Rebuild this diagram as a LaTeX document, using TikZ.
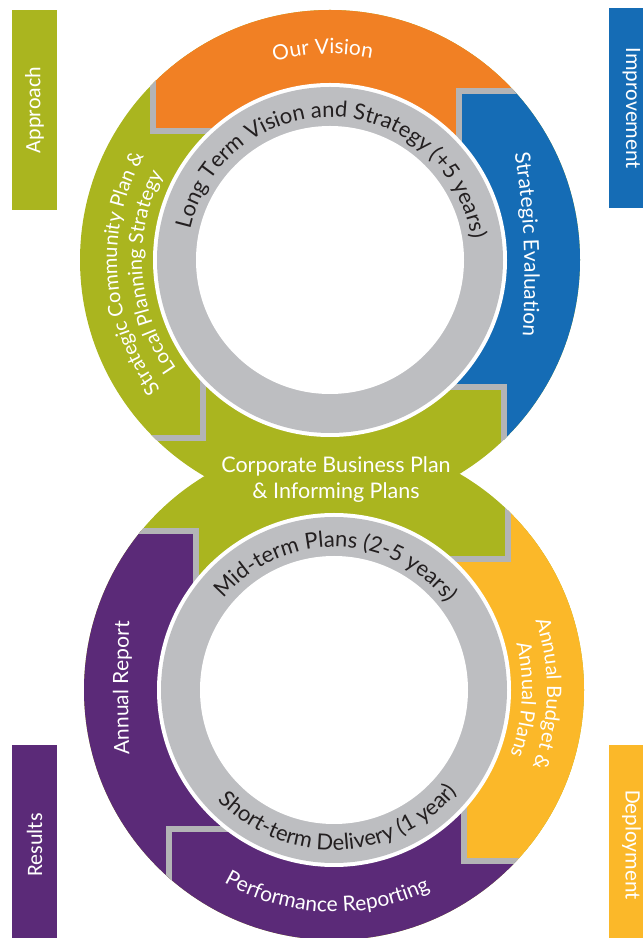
\documentclass[tikz,border=0pt]{standalone}
\usepackage{fontspec}
\setmainfont{Lato}
\newfontfamily\barfont{Carlito}
\usetikzlibrary{decorations.text}
\definecolor{cgreen}{HTML}{AAB51F}
\definecolor{corange}{HTML}{F18024}
\definecolor{cblue}{HTML}{156CB5}
\definecolor{cpurple}{HTML}{5B2A78}
\definecolor{cyellow}{HTML}{FBB829}
\definecolor{cring}{HTML}{BDBEC1}
\definecolor{csep}{HTML}{B3B4B6}
\definecolor{ctext}{HTML}{231F20}
\newcommand\ringfont{\fontsize{22}{22}\selectfont}
\newcommand\segfont{\fontsize{21}{21}\selectfont}
\newcommand\pairfont{\fontsize{20}{20}\selectfont}
\begin{document}
\begin{tikzpicture}[x=1pt,y=1pt,
  sepline/.style={draw=csep,line width=6pt,line join=miter},
  sidebar/.style={minimum width=200pt,minimum height=45pt,inner sep=0pt,text=white,font=\barfont\fontsize{22}{22}\selectfont},
  ringtext/.style={decorate,decoration={text along path,text align=center,text color=ctext,text={|\ringfont|#1}}},
  segtext/.style={decorate,decoration={text along path,text align=center,text color=white,text={|\segfont|#1}}},
  pairtext/.style={decorate,decoration={text along path,text align=center,text color=white,text={|\pairfont|#1}}}]
\useasboundingbox (0,0) rectangle (643,938);
\coordinate (T) at (330,678);
\coordinate (B) at (334,248);
% base
\fill[cgreen] (T) circle[radius=250];
\fill[cgreen] (B) circle[radius=250];
% top circle segments
\begin{scope}
\clip (T) circle[radius=250];
\fill[corange] (T) -- (250,807) -- (153,807) -- (153,988) -- (650,988) -- (650,847) -- (459,847) -- (459,738) -- cycle;
\fill[cblue] (T) -- (459,738) -- (459,847) -- (650,847) -- (650,338) -- (504,338) -- (504,551) -- (420,551) -- cycle;
\draw[sepline] (250,807) -- (153,807) -- (153,988);
\draw[sepline] (459,738) -- (459,847) -- (650,847);
\draw[sepline] (420,551) -- (504,551) -- (504,338);
\draw[sepline] (203,608) -- (203,500) -- (-50,500);
\end{scope}
% bottom circle segments
\begin{scope}
\clip (B) circle[radius=250];
\fill[cpurple] (B) -- (196,288) -- (196,407) -- (-50,407) -- (-50,-62) -- (700,-62) -- (700,77) -- (464,77) -- (464,178) -- cycle;
\fill[cyellow] (B) -- (420,379) -- (508,379) -- (508,558) -- (700,558) -- (700,77) -- (464,77) -- (464,178) -- cycle;
\draw[sepline] (196,288) -- (196,407) -- (-50,407);
\draw[sepline] (260,109) -- (169,109) -- (169,-62);
\draw[sepline] (420,379) -- (508,379) -- (508,558);
\draw[sepline] (464,178) -- (464,77) -- (700,77);
\end{scope}
% rings
\foreach \c in {T,B}{
  \fill[white] (\c) circle[radius=177];
  \fill[cring] (\c) circle[radius=173];
  \fill[white] (\c) circle[radius=134];
}
% gray ring texts
\path[ringtext={Long Term Vision and Strategy (+5 years)}] (T) ++(178:143) arc[start angle=178,end angle=-2,radius=143];
\path[ringtext={Mid-term Plans (2-5 years)}] (B) ++(170:143) arc[start angle=170,end angle=8,radius=143];
\path[ringtext={Short-term Delivery (1 year)}] (B) ++(192:160) arc[start angle=192,end angle=352,radius=160];
% segment texts
\path[segtext={Our Vision}] (T) ++(140:206) arc[start angle=140,end angle=44,radius=206];
\path[segtext={Strategic Evaluation}] (508,818) .. controls (526,740) and (528,650) .. (520,568);
\path[segtext={Annual Report}] (132,130) .. controls (127,200) and (127,300) .. (132,370);
\path[segtext={Performance Reporting}] (B) ++(208:222) arc[start angle=208,end angle=328,radius=222];
\path[pairtext={Strategic Community Plan {\&}}] (T) ++(232:213) arc[start angle=232,end angle=136,radius=213];
\path[pairtext={Local Planning Strategy}] (T) ++(232:188) arc[start angle=232,end angle=136,radius=188];
\path[pairtext={Annual Budget {\&}}] (B) ++(45:213) arc[start angle=45,end angle=-47,radius=213];
\path[pairtext={Annual Plans}] (B) ++(43:188) arc[start angle=43,end angle=-49,radius=188];
\node[text=white,align=center,inner sep=0pt,font=\fontsize{21.5}{26}\selectfont] (corp) at (336,458) {Corporate Business Plan\\\& Informing Plans};
% side bars
\node[sidebar,fill=cgreen,rotate=90] (approach) at (34.5,828) {Approach};
\node[sidebar,fill=cblue,rotate=-90] (improvement) at (631.5,829.5) {Improvement};
\node[sidebar,fill=cpurple,rotate=90] (results) at (34.5,93) {Results};
\node[sidebar,fill=cyellow,rotate=-90] (deployment) at (631.5,93) {Deployment};
\end{tikzpicture}
\end{document}
